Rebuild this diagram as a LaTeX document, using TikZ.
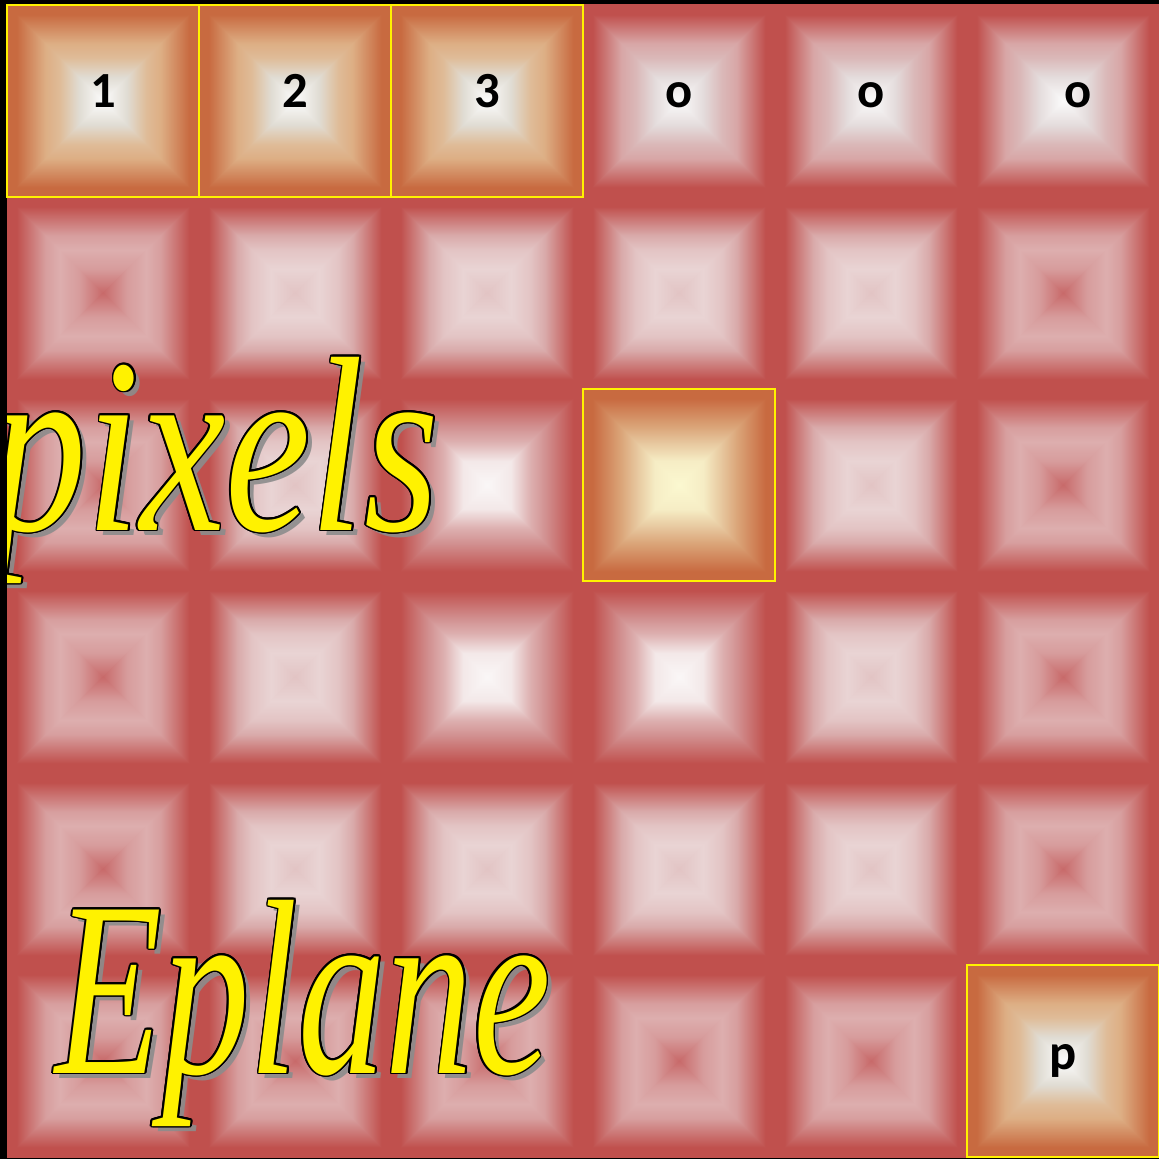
\documentclass[tikz,border=0pt]{standalone}
\usepackage{fontspec}
\usepackage{graphicx}
\newfontfamily\artfont{Liberation Serif}
\newfontfamily\tagfont{Carlito}

\definecolor{edgered}{HTML}{C0504D}
\definecolor{edgeorange}{HTML}{C86A40}
% far tiles (dark dot in the middle)
\definecolor{far1}{HTML}{D79E9E}
\definecolor{far2}{HTML}{DDAEAE}
\definecolor{far3}{HTML}{D79C9C}
\definecolor{far4}{HTML}{C86A6A}
% mid tiles (pale)
\definecolor{mid1}{HTML}{D9AAAA}
\definecolor{mid2}{HTML}{E3C4C4}
\definecolor{mid3}{HTML}{E9D4D4}
\definecolor{mid4}{HTML}{E2C4C4}
% near tiles (white middle)
\definecolor{near1}{HTML}{D29292}
\definecolor{near2}{HTML}{DDB0B0}
\definecolor{near3}{HTML}{F3E8E8}
\definecolor{near4}{HTML}{FAF7F7}
% orange tiles with a number
\definecolor{lit1}{HTML}{DDAE84}
\definecolor{lit2}{HTML}{DFBC98}
\definecolor{lit3}{HTML}{E0DCD3}
\definecolor{lit4}{HTML}{FCFCFC}
% selected orange tile
\definecolor{sel1}{HTML}{DBA67A}
\definecolor{sel2}{HTML}{E6C59C}
\definecolor{sel3}{HTML}{F6EDC5}
\definecolor{sel4}{HTML}{FBF8D0}
% red tiles with a letter
\definecolor{tag1}{HTML}{D8A6A6}
\definecolor{tag2}{HTML}{DAB8B8}
\definecolor{tag3}{HTML}{E4DCDC}
\definecolor{tag4}{HTML}{FBFBFB}

% pyramid look: one shading across, one shading up (tile = 25bp..75bp)
\newcommand\tileshading[6]{%
  \pgfdeclarehorizontalshading{tile-#1-h}{100bp}{color(0bp)=(#2); color(27.5bp)=(#2);
    color(35bp)=(#3); color(38.75bp)=(#4); color(43.75bp)=(#5); color(50bp)=(#6);
    color(56.25bp)=(#5); color(61.25bp)=(#4); color(65bp)=(#3); color(72.5bp)=(#2); color(100bp)=(#2)}%
  \pgfdeclareverticalshading{tile-#1-v}{100bp}{color(0bp)=(#2); color(27.5bp)=(#2);
    color(35bp)=(#3); color(38.75bp)=(#4); color(43.75bp)=(#5); color(50bp)=(#6);
    color(56.25bp)=(#5); color(61.25bp)=(#4); color(65bp)=(#3); color(72.5bp)=(#2); color(100bp)=(#2)}}
\tileshading{far}{edgered}{far1}{far2}{far3}{far4}
\tileshading{mid}{edgered}{mid1}{mid2}{mid3}{mid4}
\tileshading{near}{edgered}{near1}{near2}{near3}{near4}
\tileshading{lit}{edgeorange}{lit1}{lit2}{lit3}{lit4}
\tileshading{sel}{edgeorange}{sel1}{sel2}{sel3}{sel4}
\tileshading{tag}{edgered}{tag1}{tag2}{tag3}{tag4}

\begin{document}
\begin{tikzpicture}[
  frame/.style={draw=yellow, line width=0.6pt},
  tag/.style={font=\tagfont\bfseries\fontsize{15}{15}\selectfont, inner sep=0pt, anchor=base, text=black},
  word/.style={font=\artfont\itshape\fontsize{74}{80}\selectfont, inner sep=0pt, anchor=base west}
]
  \useasboundingbox (-0.0729,-0.0208) rectangle (12,12.052);
  \fill[black] (-0.0729,-0.0208) rectangle (12,12.052);
  \fill[edgered] (0,0) rectangle (12,12);

  % the 6x6 plane, row 1 on top
  \foreach \c/\r/\t in {1/1/lit, 2/1/lit, 3/1/lit, 4/1/tag, 5/1/tag, 6/1/tag,
                        1/2/far, 2/2/mid, 3/2/mid, 4/2/mid, 5/2/mid, 6/2/far,
                        1/3/far, 2/3/mid, 3/3/near, 4/3/sel, 5/3/mid, 6/3/far,
                        1/4/far, 2/4/mid, 3/4/near, 4/4/near, 5/4/mid, 6/4/far,
                        1/5/far, 2/5/mid, 3/5/mid, 4/5/mid, 5/5/mid, 6/5/far,
                        1/6/far, 2/6/far, 3/6/far, 4/6/far, 5/6/far, 6/6/lit} {
    \pgfmathsetmacro\xa{2*\c-2}
    \pgfmathsetmacro\ya{12-2*\r}
    \begin{scope}
      \clip (\xa,\ya+0.015) rectangle ++(2,1.97);
      \shade[shading=tile-\t-h] (\xa,\ya) rectangle ++(2,2);
    \end{scope}
    \begin{scope}
      \clip (\xa-0.02,\ya-0.02) -- ++(1.02,1.02) -- ++(1.02,-1.02) -- cycle
            (\xa-0.02,\ya+2.02) -- ++(1.02,-1.02) -- ++(1.02,1.02) -- cycle;
      \shade[shading=tile-\t-v] (\xa,\ya) rectangle ++(2,2);
    \end{scope}
  }

  \draw[frame] (0,10) rectangle (2,12);
  \draw[frame] (2,10) rectangle (4,12);
  \draw[frame] (4,10) rectangle (6,12);
  \draw[frame] (6,6) rectangle (8,8);
  \draw[frame] (10,0) rectangle (12,2);

  \node[tag] (one) at (1,10.93) {1};
  \node[tag] (two) at (3,10.93) {2};
  \node[tag] (three) at (5,10.93) {3};
  \node[tag] (oa) at (7,10.93) {o};
  \node[tag] (ob) at (9,10.93) {o};
  \node[tag] (oc) at (11.16,10.93) {o};
  \node[tag] (pp) at (11,0.91) {p};

  % outlined words with a drop shadow
  \begin{scope}
    \clip (0,0) rectangle (12,12);
    \foreach \w/\x/\y/\s in {pixels/-0.177/6.53/0.77, Eplane/0.5/0.875/0.70} {
      \node[word, text=black!45, opacity=0.9, shift={(0.06,-0.06)}] (\w-shadow) at (\x,\y) {\scalebox{\s}[1]{\w}};
      \foreach \a [count=\k] in {0,22.5,...,337.5}
        \node[word, text=black, shift={(\a:0.018)}] (\w-rim-\k) at (\x,\y) {\scalebox{\s}[1]{\w}};
      \node[word, text=yellow] (\w) at (\x,\y) {\scalebox{\s}[1]{\w}};
    }
  \end{scope}
\end{tikzpicture}
\end{document}
